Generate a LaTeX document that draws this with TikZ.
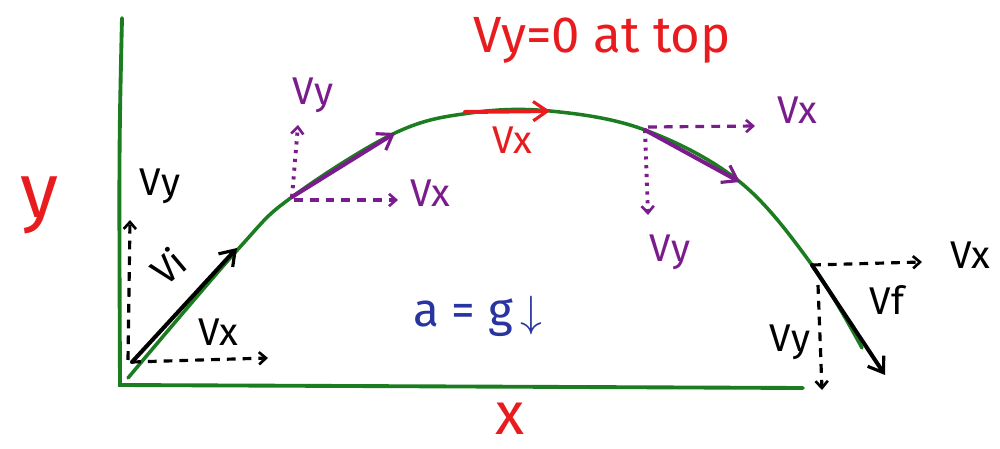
\documentclass[tikz,border=0pt]{standalone}
\usepackage{fontspec}
\setmainfont{Fira Sans}
\usetikzlibrary{arrows.meta}
\definecolor{grn}{RGB}{28,125,32}
\definecolor{myred}{RGB}{232,28,30}
\definecolor{purp}{RGB}{122,28,140}
\definecolor{myblue}{RGB}{40,52,160}
\begin{document}
\begin{tikzpicture}[x=0.02cm,y=-0.02cm,
  axisline/.style={grn,line width=2.2pt,line cap=round},
  traj/.style={grn,line width=2pt,line cap=round},
  vec/.style={line width=2.3pt,line cap=round,-{Straight Barb[length=8pt,width=11pt,line width=1.8pt]}},
  comp/.style={line width=1.8pt,dash pattern=on 5pt off 4pt,-{Straight Barb[length=4pt,width=7pt,line width=1.5pt]}},
  dotcomp/.style={line width=2.2pt,dash pattern=on 1.8pt off 3.2pt,-{Straight Barb[length=4pt,width=7pt,line width=1.5pt]}},
  lbl/.style={font=\fontsize{22}{24}\selectfont,inner sep=0pt}]
\useasboundingbox (0,0) rectangle (1000,449);
\fill[white] (0,0) rectangle (1000,449);
% axes
\coordinate (Ytop) at (122,18);
\coordinate (O) at (120,385);
\coordinate (Xend) at (803,388);
\draw[axisline] (Ytop) .. controls (119,150) .. (O) -- (Xend);
% trajectory
\draw[traj] plot[smooth,tension=0.6] coordinates {(128,378) (240,247) (292,197) (395,133) (470,113) (550,111) (645,130) (740,182) (812,265) (862,348)};
% launch point vectors
\coordinate (L) at (132,362);
\coordinate (Lvi) at (237,248);
\coordinate (Lvx) at (268,358);
\coordinate (Lvy0) at (128,360);
\coordinate (Lvy) at (130,220);
\draw[comp] (L) -- (Lvx);
\draw[comp] (Lvy0) -- (Lvy);
\draw[vec] (L) -- (Lvi);
% rising point
\coordinate (R) at (292,197);
\coordinate (Rv) at (395,133);
\coordinate (Rvx0) at (294,200);
\coordinate (Rvx) at (398,200);
\coordinate (Rvy) at (298,125);
\draw[purp,dotcomp] (R) -- (Rvy);
\draw[purp,comp] (Rvx0) -- (Rvx);
\draw[purp,vec] (R) -- (Rv);
% top
\coordinate (T0) at (465,112);
\coordinate (T1) at (550,111);
\draw[myred,vec] (T0) -- (T1);
% falling point
\coordinate (F) at (645,130);
\coordinate (Fv) at (740,182);
\coordinate (Fvx0) at (648,127);
\coordinate (Fvx) at (755,126);
\coordinate (Fvy) at (648,215);
\draw[purp,dotcomp] (F) -- (Fvy);
\draw[purp,comp] (Fvx0) -- (Fvx);
\draw[purp,vec] (F) -- (Fv);
% final point
\coordinate (E) at (812,265);
\coordinate (Ev) at (885,375);
\coordinate (Evx) at (922,262);
\coordinate (Evy0) at (818,285);
\coordinate (Evy) at (822,390);
\draw[comp] (E) -- (Evx);
\draw[comp] (Evy0) -- (Evy);
\draw[vec] (E) -- (Ev);
% labels
\node[lbl,myred,font=\fontsize{44}{46}\selectfont] (ylab) at (40,205) {y};
\node[lbl,myred,font=\fontsize{34}{36}\selectfont] (xlab) at (510,419) {x};
\node[lbl,myred,font=\fontsize{29}{32}\selectfont] (title) at (602,40) {Vy=0 at top};
\node[lbl,myred] (topvx) at (512,140) {Vx};
\node[lbl,purp] (rvy) at (313,95) {Vy};
\node[lbl,purp] (rvx) at (430,193) {Vx};
\node[lbl] (lvy) at (160,186) {Vy};
\node[lbl,rotate=40] (lvi) at (168,266) {Vi};
\node[lbl] (lvx) at (218,332) {Vx};
\node[lbl,purp] (fvx) at (797,110) {Vx};
\node[lbl,purp] (fvy) at (670,252) {Vy};
\node[lbl] (evx) at (970,255) {Vx};
\node[lbl] (evf) at (887,300) {Vf};
\node[lbl] (evy) at (790,342) {Vy};
\node[lbl,myblue,font=\fontsize{27}{30}\selectfont] (acc) at (478,316) {a = g\,$\downarrow$};
\end{tikzpicture}
\end{document}
